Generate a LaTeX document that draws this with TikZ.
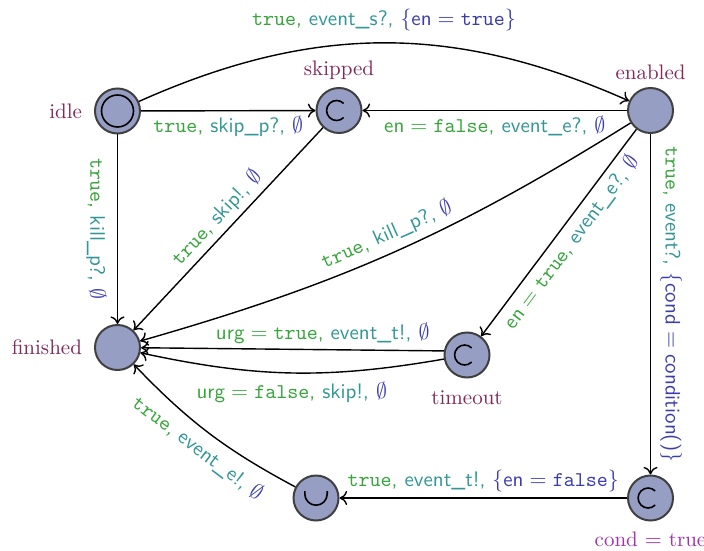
\documentclass[tikz,border=0pt]{standalone}
\usepackage{fontspec}
\usetikzlibrary{arrows.meta}
\definecolor{namecol}{RGB}{128,40,90}
\definecolor{invcol}{RGB}{160,50,170}
\definecolor{gcol}{RGB}{55,165,60}
\definecolor{scol}{RGB}{50,150,150}
\definecolor{ucol}{RGB}{60,60,175}
\definecolor{statefill}{RGB}{150,158,196}
\definecolor{statedraw}{RGB}{64,64,64}
\newcommand{\guardc}[1]{\textcolor{gcol}{#1}}
\newcommand{\syncc}[1]{\textcolor{scol}{#1}}
\newcommand{\updc}[1]{\textcolor{ucol}{#1}}
\newcommand{\noupd}{\updc{$\emptyset$}}
\begin{document}
\begin{tikzpicture}[x=0.5pt,y=-0.5pt,
  state/.style={circle,draw=statedraw,fill=statefill,line width=1pt,minimum size=22.5pt,inner sep=0pt},
  nm/.style={text=namecol,font=\fontsize{10.5}{12}\selectfont},
  trans/.style={-{To[length=3.8pt,width=7pt]},line width=0.7pt},
  lbl/.style={font=\sffamily\fontsize{10.5}{12}\selectfont,inner sep=2.5pt},
  statemark/.style={line width=0.8pt,draw=black}
]
\useasboundingbox (0,0) rectangle (704,550);

\node[state,label={[nm,label distance=2.5pt]left:idle}] (idle) at (117.5,111) {};
\node[state,label={[nm,label distance=0pt]above:skipped}] (sk) at (339,110.5) {};
\node[state,label={[nm,label distance=0pt]above:enabled}] (en) at (650.5,110.5) {};
\node[state,label={[nm,label distance=2.5pt]left:finished}] (fin) at (117.5,347.5) {};
\node[state,label={[nm,label distance=2.5pt]below:timeout}] (to) at (467,355) {};
\node[state] (ur) at (316,498) {};
\node[state,label={[text=invcol,font=\fontsize{10.5}{12}\selectfont,label distance=1.5pt]below:cond $=$ true}] (br) at (650.5,498) {};

% inner marks
\draw[statemark] (idle.center) circle[radius=8pt];
\foreach \n in {sk,to,br}{
  \draw[statemark,shift={(\n.center)}] ([xshift=-1.2pt]45:5pt) arc[start angle=45,end angle=315,radius=5pt];
}
\draw[statemark,shift={(ur.center)}] (-5.6pt,3.4pt) -- (-5.6pt,2pt) arc[start angle=180,end angle=360,radius=5.6pt] -- (5.6pt,3.4pt);

% transitions
\draw[trans] (idle) to[bend left=24] node[above,lbl,inner sep=5.5pt]
  {\guardc{\texttt{true},} \syncc{event\_s?,} \updc{$\{\mathsf{en}=\mathtt{true}\}$}} (en);
\draw[trans] (idle) -- node[below,lbl]
  {\guardc{\texttt{true},} \syncc{skip\_p?,} \noupd} (sk);
\draw[trans] (en) -- node[below,lbl]
  {\guardc{$\mathsf{en}=\mathtt{false}$,} \syncc{event\_e?,} \noupd} (sk);
\draw[trans] (idle) -- node[rotate=-90,anchor=north,lbl,inner sep=5pt]
  {\guardc{\texttt{true},} \syncc{kill\_p?,} \noupd} (fin);
\draw[trans] (sk) -- node[sloped,above,lbl]
  {\guardc{\texttt{true},} \syncc{skip!,} \noupd} (fin);
\draw[trans] (en) to[bend left=8] node[sloped,above,lbl,pos=0.5,inner sep=4pt]
  {\guardc{\texttt{true},} \syncc{kill\_p?,} \noupd} (fin);
\draw[trans] (en) -- node[sloped,below,lbl,pos=0.5]
  {\guardc{$\mathsf{en}=\mathtt{true}$,} \syncc{event\_e?,} \noupd} (to);
\draw[trans] (en) -- node[rotate=-90,anchor=south,lbl,inner sep=4.5pt]
  {\guardc{\texttt{true},} \syncc{event?,} \updc{$\{\mathsf{cond}=\textsf{condition()}\}$}} (br);
\draw[trans] (to.170) -- node[above,lbl,pos=0.4]
  {\guardc{$\mathsf{urg}=\mathtt{true}$,} \syncc{event\_t!,} \noupd} (fin);
\draw[trans] (to.190) to[bend left=11] node[below,lbl,pos=0.5,inner sep=4pt]
  {\guardc{$\mathsf{urg}=\mathtt{false}$,} \syncc{skip!,} \noupd} (fin);
\draw[trans] (ur) to[bend left=9] node[sloped,below,lbl,inner sep=4pt]
  {\guardc{\texttt{true},} \syncc{event\_e!,} \noupd} (fin);
\draw[trans] (br) -- node[above,lbl]
  {\guardc{\texttt{true},} \syncc{event\_t!,} \updc{$\{\mathsf{en}=\mathtt{false}\}$}} (ur);
\end{tikzpicture}
\end{document}
